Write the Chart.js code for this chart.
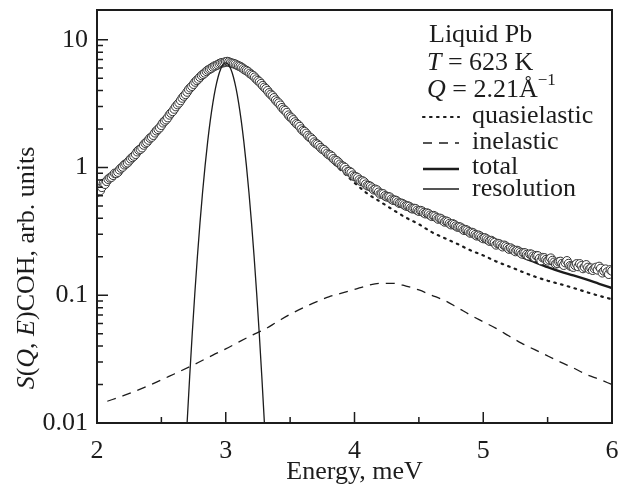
<!DOCTYPE html>
<html>
<head>
<meta charset="utf-8">
<script src="https://cdn.jsdelivr.net/npm/chart.js@4.4.1/dist/chart.umd.min.js"></script>
<style>
html,body{margin:0;padding:0;background:#fff;}
#wrap{width:629px;height:488px;}
</style>
</head>
<body>
<div id="wrap"><canvas id="c" width="629" height="488"></canvas></div>
<script>
// ---- data ----
const circleE = [2.000,2.025,2.050,2.075,2.100,2.125,2.150,2.175,2.200,2.225,2.250,2.275,2.300,2.325,2.350,2.375,2.400,2.425,2.450,2.475,
2.500,2.525,2.550,2.575,2.600,2.625,2.650,2.675,2.700,2.725,2.750,2.775,2.800,2.825,2.850,2.875,2.900,2.925,2.950,2.975,
3.000,3.025,3.050,3.075,3.100,3.125,3.150,3.175,3.200,3.225,3.250,3.275,3.300,3.325,3.350,3.375,3.400,3.425,3.450,3.475,
3.500,3.525,3.550,3.575,3.600,3.625,3.650,3.675,3.700,3.725,3.750,3.775,3.800,3.825,3.850,3.875,3.900,3.925,3.950,3.975,
4.000,4.025,4.050,4.075,4.100,4.125,4.150,4.175,4.200,4.225,4.250,4.275,4.300,4.325,4.350,4.375,4.400,4.425,4.450,4.475,
4.500,4.525,4.550,4.575,4.600,4.625,4.650,4.675,4.700,4.725,4.750,4.775,4.800,4.825,4.850,4.875,4.900,4.925,4.950,4.975,
5.000,5.025,5.050,5.075,5.100,5.125,5.150,5.175,5.200,5.225,5.250,5.275,5.300,5.325,5.350,5.375,5.400,5.425,5.450,5.475,
5.500,5.525,5.550,5.575,5.600,5.625,5.650,5.675,5.700,5.725,5.750,5.775,5.800,5.825,5.850,5.875,5.900,5.925,5.950,5.975,6.000];
const circleS = [0.64,0.66,0.75,0.78,0.83,0.87,0.90,0.96,1.01,1.07,1.13,1.20,1.27,1.37,1.43,1.55,1.64,1.73,1.87,1.99,
2.14,2.31,2.46,2.67,2.87,3.11,3.35,3.63,3.90,4.21,4.49,4.81,5.10,5.37,5.66,5.89,6.12,6.29,6.50,6.61,
6.72,6.69,6.54,6.43,6.24,6.06,5.81,5.61,5.34,5.09,4.79,4.53,4.24,3.99,3.73,3.51,3.27,3.07,2.85,2.69,
2.49,2.36,2.20,2.09,1.94,1.85,1.73,1.65,1.54,1.48,1.39,1.34,1.26,1.22,1.14,1.10,1.03,1.00,0.93,0.91,
0.85,0.83,0.78,0.77,0.72,0.71,0.67,0.665,0.62,0.62,0.59,0.585,0.555,0.55,0.525,0.52,0.50,0.495,0.475,0.475,
0.455,0.455,0.435,0.435,0.415,0.415,0.395,0.395,0.375,0.375,0.357,0.357,0.342,0.34,0.323,0.322,0.307,0.306,0.292,0.29,
0.278,0.276,0.265,0.263,0.248,0.252,0.240,0.242,0.230,0.229,0.220,0.221,0.211,0.214,0.204,0.209,0.198,0.203,0.187,0.196,
0.186,0.195,0.181,0.178,0.184,0.172,0.186,0.170,0.166,0.176,0.176,0.162,0.173,0.160,0.157,0.165,0.168,0.150,0.160,0.146,0.155];
const circle2E = [2.0125,2.0375,2.0625,2.0875,2.1125,2.1375,2.1625,2.1875,2.2125,2.2375,2.2625,2.2875,2.3125,2.3375,2.3625,2.3875,2.4125,2.4375,2.4625,2.4875,
2.5125,2.5375,2.5625,2.5875,2.6125,2.6375,2.6625,2.6875,2.7125,2.7375,2.7625,2.7875,2.8125,2.8375,2.8625,2.8875,2.9125,2.9375,2.9625,2.9875,
3.0125,3.0375,3.0625,3.0875,3.1125,3.1375,3.1625,3.1875,3.2125,3.2375,3.2625,3.2875,3.3125,3.3375,3.3625,3.3875,3.4125,3.4375,3.4625,3.4875,
3.5125,3.5375,3.5625,3.5875,3.6125,3.6375,3.6625,3.6875,3.7125,3.7375,3.7625,3.7875,3.8125,3.8375,3.8625,3.8875,3.9125,3.9375,3.9625,3.9875,
4.0125,4.0375,4.0625,4.0875,4.1125,4.1375,4.1625,4.1875,4.2125,4.2375,4.2625,4.2875,4.3125,4.3375,4.3625,4.3875,4.4125,4.4375,4.4625,4.4875,
4.5125,4.5375,4.5625,4.5875,4.6125,4.6375,4.6625,4.6875,4.7125,4.7375,4.7625,4.7875,4.8125,4.8375,4.8625,4.8875,4.9125,4.9375,4.9625,4.9875,
5.0125,5.0375,5.0625,5.0875,5.1125,5.1375,5.1625,5.1875,5.2125,5.2375,5.2625,5.2875,5.3125,5.3375,5.3625,5.3875,5.4125,5.4375,5.4625,5.4875,
5.5125,5.5375,5.5625,5.5875,5.6125,5.6375,5.6625,5.6875,5.7125,5.7375,5.7625,5.7875,5.8125,5.8375,5.8625,5.8875,5.9125,5.9375,5.9625,5.9875];
const circle2S = [0.67,0.70,0.74,0.81,0.84,0.90,0.92,0.99,1.05,1.09,1.17,1.23,1.33,1.39,1.50,1.58,1.70,1.79,1.94,2.05,
2.24,2.37,2.58,2.75,3.00,3.21,3.50,3.74,4.08,4.33,4.67,4.93,5.26,5.50,5.79,5.98,6.22,6.38,6.58,6.64,
6.75,6.60,6.50,6.32,6.17,5.92,5.73,5.45,5.24,4.92,4.68,4.37,4.13,3.84,3.64,3.37,3.19,2.94,2.79,2.57,
2.44,2.27,2.16,2.00,1.91,1.78,1.70,1.58,1.52,1.43,1.38,1.29,1.25,1.17,1.13,1.06,1.02,0.96,0.93,0.87,
0.845,0.80,0.785,0.74,0.72,0.69,0.675,0.64,0.625,0.60,0.59,0.565,0.555,0.535,0.525,0.51,0.50,0.482,0.478,0.462,
0.46,0.443,0.44,0.423,0.42,0.404,0.40,0.385,0.38,0.364,0.362,0.348,0.343,0.331,0.326,0.314,0.31,0.298,0.295,0.283,
0.281,0.27,0.268,0.258,0.254,0.246,0.246,0.236,0.234,0.225,0.224,0.216,0.215,0.208,0.21,0.202,0.204,0.194,0.197,0.19,
0.19,0.187,0.176,0.183,0.177,0.18,0.177,0.168,0.172,0.168,0.17,0.166,0.165,0.163,0.162,0.158,0.162,0.155,0.152,0.158];
const totalE = [2.0,2.1,2.2,2.3,2.4,2.5,2.6,2.7,2.8,2.9,2.95,3.0,3.05,3.1,3.2,3.3,3.4,3.5,3.6,3.7,3.8,3.9,4.0,4.1,4.2,4.3,4.4,4.5,4.6,4.7,4.8,4.9,5.0,5.1,5.2,5.3,5.4,5.5,5.6,5.7,5.8,5.9,6.0];
const totalS = [0.64,0.82,1.02,1.28,1.65,2.15,2.9,3.9,5.1,6.1,6.5,6.7,6.55,6.2,5.3,4.2,3.25,2.5,1.95,1.55,1.27,1.04,0.87,0.74,0.64,0.57,0.51,0.46,0.415,0.375,0.34,0.305,0.275,0.25,0.225,0.2,0.182,0.166,0.153,0.143,0.133,0.123,0.114];
const quasiE = [2.0,2.1,2.2,2.3,2.4,2.5,2.6,2.7,2.8,2.9,2.95,3.0,3.05,3.1,3.2,3.3,3.4,3.5,3.6,3.7,3.8,3.9,4.0,4.1,4.2,4.3,4.4,4.5,4.6,4.7,4.8,4.9,5.0,5.1,5.2,5.3,5.4,5.5,5.6,5.7,5.8,5.9,6.0];
const quasiS = [0.63,0.80,1.0,1.26,1.62,2.12,2.87,3.87,5.05,6.05,6.45,6.65,6.5,6.15,5.25,4.15,3.2,2.44,1.88,1.47,1.17,0.94,0.76,0.625,0.54,0.466,0.405,0.36,0.312,0.28,0.252,0.225,0.205,0.184,0.168,0.153,0.14,0.13,0.122,0.114,0.106,0.099,0.093];
const inelE = [2.08,2.2,2.4,2.6,2.75,2.9,3.0,3.1,3.21,3.3,3.4,3.5,3.65,3.8,3.9,4.0,4.1,4.2,4.3,4.4,4.5,4.6,4.7,4.8,4.9,5.0,5.1,5.2,5.3,5.4,5.5,5.6,5.7,5.8,5.9,6.0];
const inelS = [0.0148,0.0163,0.0196,0.0242,0.0285,0.034,0.038,0.043,0.049,0.054,0.062,0.071,0.084,0.097,0.104,0.111,0.119,0.124,0.124,0.118,0.110,0.100,0.091,0.080,0.070,0.062,0.055,0.048,0.042,0.0375,0.0335,0.030,0.027,0.024,0.022,0.020];
const resE = [2.68,2.69,2.70,2.72,2.74,2.76,2.78,2.80,2.82,2.84,2.86,2.88,2.90,2.92,2.94,2.96,2.98,3.00,3.02,3.04,3.06,3.08,3.10,3.12,3.14,3.16,3.18,3.20,3.22,3.24,3.26,3.28,3.30,3.31,3.32];
const resS = [0.0041,0.0065,0.0101,0.0232,0.0506,0.104,0.202,0.37,0.64,1.045,1.61,2.34,3.21,4.16,5.09,5.88,6.41,6.6,6.41,5.88,5.09,4.16,3.21,2.34,1.61,1.045,0.64,0.37,0.202,0.104,0.0506,0.0232,0.0101,0.0065,0.0041];

const xTickValues = [2,3,4,5,6];
const xMinorTicks = [2.5,3.5,4.5,5.5];
const yTickValues = [0.01,0.1,1,10];
const yTickLabels = ['0.01','0.1','1','10'];
const yMinorMultipliers = [2,3,4,5,6,7,8,9];

const FONT = '"Liberation Serif","Times New Roman",serif';
const INK = '#1c1c1c';

function pts(xs, ys){ return xs.map((v,i)=>({x:v, y:ys[i]})); }
const circlePts = pts(circleE,circleS).concat(pts(circle2E,circle2S)).sort((a,b)=>a.x-b.x);

const styles = {
  quasi: {color:INK, width:2.2, dash:[1.6,5.4], cap:'round'},
  inel:  {color:INK, width:1.3, dash:[9,7], cap:'butt'},
  total: {color:INK, width:2.4, dash:[], cap:'butt'},
  res:   {color:INK, width:1.3, dash:[], cap:'butt'}
};

function drawRich(ctx, x, y, segs){
  let cx = x;
  for (const s of segs){
    ctx.font = (s.italic?'italic ':'') + (s.size||26) + 'px ' + FONT;
    ctx.fillText(s.t, cx, y + (s.dy||0));
    cx += ctx.measureText(s.t).width;
  }
  return cx - x;
}
function richWidth(ctx, segs){
  let w = 0;
  for (const s of segs){
    ctx.font = (s.italic?'italic ':'') + (s.size||26) + 'px ' + FONT;
    w += ctx.measureText(s.t).width;
  }
  return w;
}

const decor = {
  id:'decor',
  afterDraw(chart){
    const {ctx, chartArea:a, scales} = chart;
    const xs = scales.x, ys = scales.y;
    ctx.save();
    // frame
    ctx.strokeStyle = INK; ctx.lineWidth = 2;
    ctx.strokeRect(a.left, a.top, a.right-a.left, a.bottom-a.top);
    // inward ticks
    ctx.lineWidth = 1.5;
    ctx.beginPath();
    xTickValues.forEach(v=>{const p=xs.getPixelForValue(v); ctx.moveTo(p,a.bottom); ctx.lineTo(p,a.bottom-11);});
    xMinorTicks.forEach(v=>{const p=xs.getPixelForValue(v); ctx.moveTo(p,a.bottom); ctx.lineTo(p,a.bottom-6);});
    yTickValues.forEach(v=>{const p=ys.getPixelForValue(v); ctx.moveTo(a.left,p); ctx.lineTo(a.left+11,p);});
    yTickValues.forEach(d=>yMinorMultipliers.forEach(m=>{
      const v=d*m; if(v>ys.max) return;
      const p=ys.getPixelForValue(v); ctx.moveTo(a.left,p); ctx.lineTo(a.left+6,p);
    }));
    ctx.stroke();

    // annotation / legend text
    ctx.fillStyle = INK; ctx.textBaseline = 'alphabetic'; ctx.textAlign = 'left';
    drawRich(ctx, 429, 42, [{t:'Liquid Pb'}]);
    drawRich(ctx, 427, 70, [{t:'T',italic:true},{t:' = 623 K'}]);
    drawRich(ctx, 427, 97, [{t:'Q',italic:true},{t:' = 2.21Å'},{t:'\u22121',size:17,dy:-12}]);
    const rows = [
      {label:'quasielastic', s:styles.quasi, ly:117, ty:123},
      {label:'inelastic',    s:styles.inel,  ly:143, ty:149},
      {label:'total',        s:styles.total, ly:169, ty:174},
      {label:'resolution',   s:styles.res,   ly:189, ty:196}
    ];
    rows.forEach(r=>{
      ctx.save();
      ctx.strokeStyle = r.s.color; ctx.lineWidth = r.s.width; ctx.setLineDash(r.s.dash); ctx.lineCap = r.s.cap;
      ctx.beginPath(); ctx.moveTo(423, r.ly); ctx.lineTo(459, r.ly); ctx.stroke();
      ctx.restore();
      drawRich(ctx, 472, r.ty, [{t:r.label}]);
    });

    // y axis title
    const segs = [{t:'S',italic:true},{t:'('},{t:'Q',italic:true},{t:', '},{t:'E',italic:true},{t:')COH, arb. units'}];
    const w = richWidth(ctx, segs);
    ctx.translate(34, 268);
    ctx.rotate(-Math.PI/2);
    drawRich(ctx, -w/2, 0, segs);
    ctx.restore();
  }
};

new Chart(document.getElementById('c'), {
  type:'scatter',
  data:{
    datasets:[
      {label:'resolution', data:pts(resE,resS), showLine:true, pointRadius:0, borderColor:styles.res.color, borderWidth:styles.res.width, cubicInterpolationMode:'monotone', fill:false},
      {label:'data', data:circlePts, showLine:false, pointRadius:4.3, pointBorderWidth:1, pointBorderColor:'#333333', pointBackgroundColor:'#ffffff', pointStyle:'circle'},
      {label:'total', data:pts(totalE,totalS), showLine:true, pointRadius:0, borderColor:styles.total.color, borderWidth:styles.total.width, cubicInterpolationMode:'monotone', fill:false},
      {label:'quasielastic', data:pts(quasiE,quasiS), showLine:true, pointRadius:0, borderColor:styles.quasi.color, borderWidth:styles.quasi.width, borderDash:styles.quasi.dash, borderCapStyle:'round', cubicInterpolationMode:'monotone', fill:false},
      {label:'inelastic', data:pts(inelE,inelS), showLine:true, pointRadius:0, borderColor:styles.inel.color, borderWidth:styles.inel.width, borderDash:styles.inel.dash, cubicInterpolationMode:'monotone', fill:false}
    ]
  },
  options:{
    responsive:false, animation:false, devicePixelRatio:1,
    layout:{padding:{top:10,right:17,left:0,bottom:0}},
    plugins:{legend:{display:false}, tooltip:{enabled:false}},
    scales:{
      x:{type:'linear', min:2, max:6,
        afterBuildTicks:s=>{s.ticks = xTickValues.map(v=>({value:v}));},
        afterFit:s=>{s.height = 65; s.paddingLeft = 0; s.paddingRight = 0;},
        grid:{display:false}, border:{display:false},
        ticks:{font:{family:FONT,size:26}, color:INK, padding:5, maxRotation:0, autoSkip:false, callback:v=>String(v)},
        title:{display:true, text:'Energy, meV', font:{family:FONT,size:26}, color:INK, padding:{top:-3,bottom:0}}
      },
      y:{type:'logarithmic', min:0.01, max:17.1,
        afterBuildTicks:s=>{s.ticks = yTickValues.map(v=>({value:v}));},
        afterFit:s=>{s.width = 97; s.paddingTop = 0; s.paddingBottom = 0;},
        grid:{display:false}, border:{display:false},
        ticks:{font:{family:FONT,size:26}, color:INK, padding:1, autoSkip:false, callback:(v,i)=>yTickLabels[i]}
      }
    }
  },
  plugins:[decor]
});
</script>
</body>
</html>
